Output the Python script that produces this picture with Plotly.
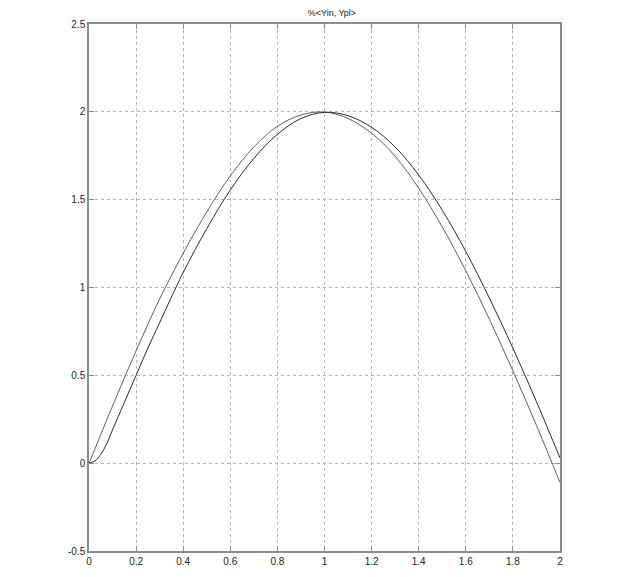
import plotly.graph_objects as go

# sample positions
x_vals = [0, 0.025, 0.05, 0.075, 0.1, 0.15, 0.2, 0.25, 0.3, 0.4, 0.5, 0.6, 0.7, 0.8, 0.9,
          1.0, 1.1, 1.2, 1.3, 1.4, 1.5, 1.6, 1.7, 1.8, 1.9, 2.0]

# leading curve (Yin)
y_in = [0, 0.08, 0.163, 0.245, 0.325, 0.485, 0.64, 0.79, 0.935, 1.195, 1.43, 1.635, 1.80, 1.918, 1.982,
        1.999, 1.962, 1.878, 1.747, 1.565, 1.345, 1.095, 0.82, 0.525, 0.215, -0.11]

# lagging curve (Ypl)
y_pl = [0, 0.012, 0.05, 0.11, 0.19, 0.345, 0.50, 0.655, 0.80, 1.085, 1.335, 1.555, 1.735, 1.872, 1.962,
        1.997, 1.978, 1.912, 1.80, 1.64, 1.44, 1.205, 0.94, 0.655, 0.35, 0.03]

x_ticks = [0, 0.2, 0.4, 0.6, 0.8, 1, 1.2, 1.4, 1.6, 1.8, 2]
x_tick_text = ["0", "0.2", "0.4", "0.6", "0.8", "1", "1.2", "1.4", "1.6", "1.8", "2"]
y_ticks = [-0.5, 0, 0.5, 1, 1.5, 2, 2.5]
y_tick_text = ["-0.5", "0", "0.5", "1", "1.5", "2", "2.5"]

fig = go.Figure()
fig.add_trace(go.Scatter(x=x_vals, y=y_in, mode="lines", name="Yin",
                         line=dict(color="#606060", width=1, shape="spline", smoothing=1.0)))
fig.add_trace(go.Scatter(x=x_vals, y=y_pl, mode="lines", name="Ypl",
                         line=dict(color="#2a2a2a", width=1, shape="spline", smoothing=1.0)))

axis_common = dict(
    showline=True, linecolor="#8c8c8c", linewidth=1.5, mirror="ticks",
    ticks="inside", ticklen=5, tickcolor="#8c8c8c", tickwidth=1,
    showgrid=True, gridcolor="#b4b4b4", griddash="3px,3px", gridwidth=1,
    zeroline=False,
    tickfont=dict(family="Liberation Sans, Arial, sans-serif", size=10, color="#222"),
)

fig.update_layout(
    width=623, height=577,
    margin=dict(l=81, r=71, t=10, b=34),
    paper_bgcolor="white", plot_bgcolor="white",
    showlegend=False,
    title=dict(text="%<Yin, Ypl>", x=0.52, xanchor="center", y=0.997, yanchor="top",
               font=dict(family="Liberation Sans, Arial, sans-serif", size=9, color="#222")),
    xaxis=dict(range=[0, 2], tickvals=x_ticks, ticktext=x_tick_text, **axis_common),
    yaxis=dict(range=[-0.5, 2.5], tickvals=y_ticks, ticktext=y_tick_text, **axis_common),
)

fig.write_html("out.html")
